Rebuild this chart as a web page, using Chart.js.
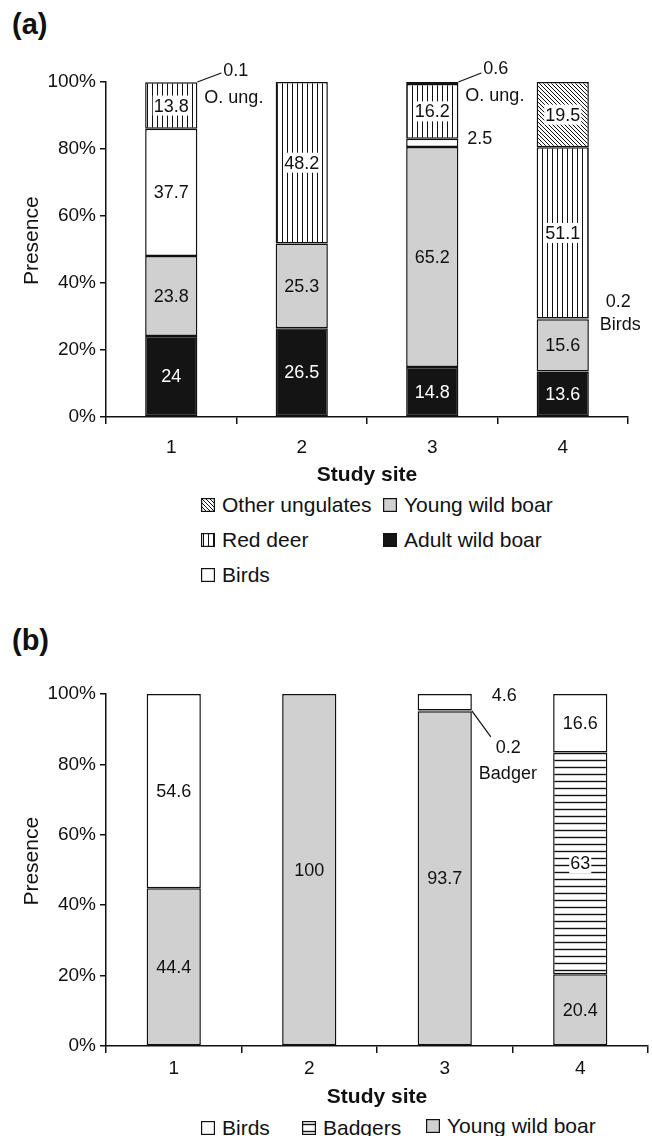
<!DOCTYPE html>
<html>
<head>
<meta charset="utf-8">
<script src="https://cdn.jsdelivr.net/npm/chart.js@4.4.0/dist/chart.umd.min.js"></script>
<style>
    body {
        margin: 0;
        width: 652px;
        height: 1136px;
        position: relative;
        overflow: hidden;
        background: #fff;
        color: #111;
        font-family: "Liberation Sans", Arial, sans-serif;
    }
    .panel-tag {
        position: absolute;
        left: 12px;
        font-size: 29px;
        font-weight: bold;
    }
    .chart-box {
        position: absolute;
        left: 0;
        width: 652px;
    }
    .legend__item {
        position: absolute;
        display: flex;
        align-items: center;
        height: 24px;
        font-size: 21px;
        white-space: nowrap;
    }
    .legend__item canvas {
        margin-right: 7px;
    }
</style>
</head>
<body>
<div class="panel-tag" style="top:8px">(a)</div>
<div class="chart-box" style="top:0;height:492px"><canvas id="chartA"></canvas></div>
<div id="legendA"></div>

<div class="panel-tag" style="top:624px">(b)</div>
<div class="chart-box" style="top:610px;height:504px"><canvas id="chartB"></canvas></div>
<div id="legendB"></div>

<script>
// Data

const sites = ["1", "2", "3", "4"];
const yTickValues = [0, 20, 40, 60, 80, 100];

// (a)
const adultBoarA = [24, 26.5, 14.8, 13.6];
const youngBoarA = [23.8, 25.3, 65.2, 15.6];
const birdsA = [37.7, 0, 2.5, 0.2];
const redDeerA = [13.8, 48.2, 16.2, 51.1];
const otherUngA = [0.1, 0, 0.6, 19.5];

// (b)
const youngBoarB = [44.4, 100, 93.7, 20.4];
const badgersB = [0, 0, 0.2, 63];
const birdsB = [54.6, 0, 4.6, 16.6];

// Helpers

const FONT = "'Liberation Sans', Arial, sans-serif";
const INK = "#111";
Chart.defaults.font.family = FONT;
Chart.defaults.color = INK;

function makePattern(kind) {
    const c = document.createElement("canvas");
    const size = kind === "horizontal" ? 7 : kind === "vertical" ? 5 : 4;
    c.width = size;
    c.height = size;
    const g = c.getContext("2d");
    g.fillStyle = "#fff";
    g.fillRect(0, 0, size, size);
    g.strokeStyle = INK;
    g.lineWidth = 1;
    g.beginPath();
    if (kind === "vertical") {
        g.moveTo(2.5, 0);
        g.lineTo(2.5, size);
    } else if (kind === "horizontal") {
        g.lineWidth = 1.4;
        g.moveTo(0, 3.5);
        g.lineTo(size, 3.5);
    } else {
        g.moveTo(-1, -1);
        g.lineTo(size + 1, size + 1);
        g.moveTo(-1, size - 1);
        g.lineTo(1, size + 1);
        g.moveTo(size - 1, -1);
        g.lineTo(size + 1, 1);
    }
    g.stroke();
    return g.createPattern(c, "repeat");
}

const fills = {
    adult: "#141414",
    young: "#d0d0d0",
    birds: "#ffffff",
    redDeer: makePattern("vertical"),
    otherUng: makePattern("diagonal"),
    badgers: makePattern("horizontal"),
};

// 100% stacked: each segment as share of the site total
function toShares(series) {
    const totals = sites.map((_, i) => series.reduce((s, arr) => s + arr[i], 0));
    return series.map(arr => arr.map((v, i) => (v > 0 ? (v / totals[i]) * 100 : null)));
}

function dataset(label, raw, share, fill, extra) {
    return Object.assign({
        label: label,
        data: share,
        raw: raw,
        backgroundColor: fill,
        borderColor: INK,
        borderWidth: 1.5,
        borderSkipped: false,
        categoryPercentage: 1,
        barPercentage: 0.4,
    }, extra || {});
}

// Value labels inside bars + callouts for the thin segments
const barLabels = {
    id: "barLabels",
    afterDatasetsDraw(chart, args, opts) {
        const ctx = chart.ctx;
        ctx.save();
        ctx.font = "18px " + FONT;
        ctx.textBaseline = "middle";
        chart.data.datasets.forEach((ds, di) => {
            const meta = chart.getDatasetMeta(di);
            meta.data.forEach((bar, i) => {
                const v = ds.raw[i];
                if (!v || v < 5) return;
                const text = String(v);
                const y = (bar.y + bar.base) / 2;
                ctx.textAlign = "center";
                if (ds.labelBox) {
                    const w = ctx.measureText(text).width;
                    ctx.fillStyle = "#fff";
                    ctx.fillRect(bar.x - w / 2 - 1, y - 10, w + 2, 20);
                }
                ctx.fillStyle = ds.labelColor || INK;
                ctx.fillText(text, bar.x, y + 1);
            });
        });

        ctx.fillStyle = INK;
        ctx.strokeStyle = INK;
        ctx.lineWidth = 1.2;
        ctx.textAlign = "left";
        (opts.callouts || []).forEach(c => {
            const bar = chart.getDatasetMeta(c.ds).data[c.i];
            const x0 = bar.x + bar.width / 2;
            const y0 = c.at === "top" ? bar.y : (bar.y + bar.base) / 2;
            if (c.line) {
                ctx.beginPath();
                ctx.moveTo(x0 + c.line[0], y0 + c.line[1]);
                ctx.lineTo(x0 + c.line[2], y0 + c.line[3]);
                ctx.stroke();
            }
            c.text.forEach(t => ctx.fillText(t[0], x0 + t[1], y0 + t[2]));
        });
        ctx.restore();
    },
};

function chartOptions(pad, axisHeight, tickPad, callouts) {
    return {
        responsive: true,
        maintainAspectRatio: false,
        animation: false,
        layout: { padding: pad },
        plugins: {
            legend: { display: false },
            tooltip: { enabled: false },
            barLabels: { callouts: callouts },
        },
        scales: {
            x: {
                stacked: true,
                ticks: { font: { size: 19 }, padding: tickPad },
                grid: { drawOnChartArea: false, offset: true, tickLength: 7, color: INK, lineWidth: 1.5 },
                border: { color: INK, width: 1.5 },
                title: { display: true, text: "Study site", font: { size: 21, weight: "bold" }, padding: { top: 0, bottom: 4 } },
                afterFit(scale) { scale.height = axisHeight; },
            },
            y: {
                stacked: true,
                min: 0,
                max: 100,
                afterBuildTicks(scale) { scale.ticks = yTickValues.map(v => ({ value: v })); },
                ticks: { font: { size: 19 }, padding: 4, callback: v => v + "%" },
                grid: { drawOnChartArea: false, tickLength: 6, color: INK, lineWidth: 1.5 },
                border: { color: INK, width: 1.5 },
                // leading spaces nudge the rotated title a little upward, as in the original
                title: { display: true, text: "   Presence", font: { size: 21 }, padding: { top: 20, bottom: 0 } },
                afterFit(scale) { scale.width = 106; },
            },
        },
    };
}

// Chart (a)

const sharesA = toShares([adultBoarA, youngBoarA, birdsA, redDeerA, otherUngA]);

const chartA = new Chart(document.querySelector("#chartA"), {
    type: "bar",
    data: {
        labels: sites,
        datasets: [
            dataset("Adult wild boar", adultBoarA, sharesA[0], fills.adult, { labelColor: "#fff" }),
            dataset("Young wild boar", youngBoarA, sharesA[1], fills.young),
            dataset("Birds", birdsA, sharesA[2], fills.birds),
            dataset("Red deer", redDeerA, sharesA[3], fills.redDeer, { labelBox: true }),
            dataset("Other ungulates", otherUngA, sharesA[4], fills.otherUng, { labelBox: true }),
        ],
    },
    options: chartOptions({ top: 82, right: 24, left: 0, bottom: 0 }, 75, 12, [
        { ds: 4, i: 0, at: "top", line: [0, 0, 24, -9], text: [["0.1", 26, -11], ["O. ung.", 7, 16]] },
        { ds: 4, i: 2, at: "top", line: [0, 0, 23, -9], text: [["0.6", 25, -13], ["O. ung.", 7, 14]] },
        { ds: 2, i: 2, at: "mid", text: [["2.5", 9, -4]] },
        { ds: 2, i: 3, at: "mid", text: [["0.2", 17, -17], ["Birds", 11, 6]] },
    ]),
    plugins: [barLabels],
});

// Chart (b)

const sharesB = toShares([youngBoarB, badgersB, birdsB]);

const chartB = new Chart(document.querySelector("#chartB"), {
    type: "bar",
    data: {
        labels: sites,
        datasets: [
            dataset("Young wild boar", youngBoarB, sharesB[0], fills.young),
            dataset("Badgers", badgersB, sharesB[1], fills.badgers, { labelBox: true }),
            dataset("Birds", birdsB, sharesB[2], fills.birds),
        ],
    },
    options: chartOptions({ top: 84, right: 4, left: 0, bottom: 0 }, 68, 4, [
        { ds: 2, i: 2, at: "mid", text: [["4.6", 20, -6]] },
        { ds: 1, i: 2, at: "mid", line: [0, 0, 19, 26], text: [["0.2", 24, 37], ["Badger", 7, 63]] },
    ]),
    plugins: [barLabels],
});

// Legends (HTML, swatches use the same fills as the bars)

function buildLegend(holder, chart, items) {
    items.forEach(item => {
        const ds = chart.data.datasets.find(d => d.label === item.label);
        const el = document.createElement("div");
        el.className = "legend__item";
        el.style.left = item.left + "px";
        el.style.top = item.top + "px";
        const sw = document.createElement("canvas");
        sw.width = 14;
        sw.height = 14;
        const g = sw.getContext("2d");
        g.fillStyle = ds.backgroundColor;
        g.fillRect(0, 0, 14, 14);
        g.strokeStyle = INK;
        g.lineWidth = 1.2;
        g.strokeRect(0.6, 0.6, 12.8, 12.8);
        el.appendChild(sw);
        el.appendChild(document.createTextNode(item.label));
        holder.appendChild(el);
    });
}

buildLegend(document.querySelector("#legendA"), chartA, [
    { label: "Other ungulates", left: 201, top: 493 },
    { label: "Young wild boar", left: 383, top: 493 },
    { label: "Red deer", left: 201, top: 528 },
    { label: "Adult wild boar", left: 383, top: 528 },
    { label: "Birds", left: 201, top: 563 },
]);

buildLegend(document.querySelector("#legendB"), chartB, [
    { label: "Birds", left: 201, top: 1116 },
    { label: "Badgers", left: 302, top: 1116 },
    { label: "Young wild boar", left: 426, top: 1114 },
]);
</script>
</body>
</html>
